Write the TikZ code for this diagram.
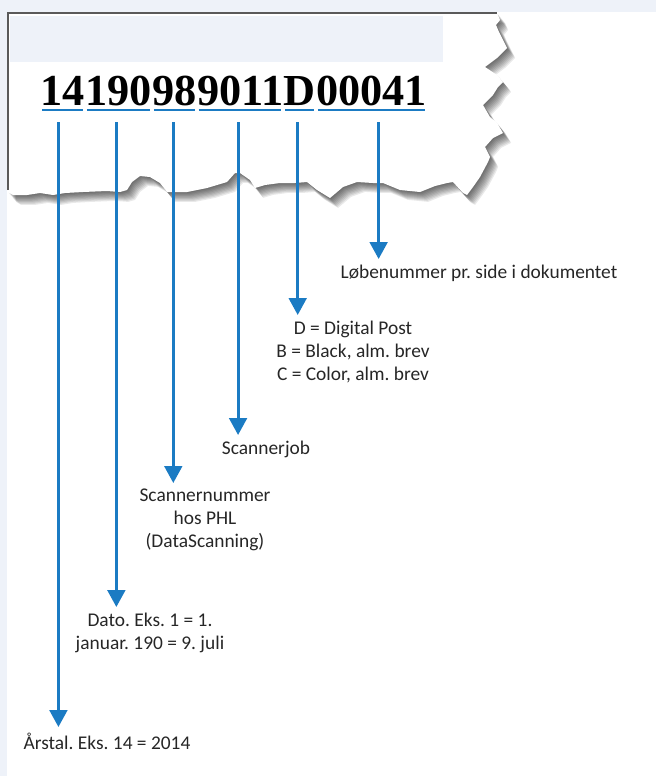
\documentclass[tikz,border=0pt]{standalone}
\usepackage{fontspec}
\setmainfont{Carlito}
\newfontfamily\numfont{Liberation Serif}
\usepackage{xcolor}
\usetikzlibrary{arrows.meta, positioning, calc}
\definecolor{arrowblue}{HTML}{1B7BC3}
\definecolor{panelbg}{HTML}{EEF2F9}
\definecolor{edgegray}{HTML}{5A5A5A}
\frenchspacing

\begin{document}
\begin{tikzpicture}[
  x=0.025cm, y=-0.025cm,
  font=\fontsize{13.8}{16.3}\selectfont,
  digits/.style={font=\numfont\bfseries\fontsize{31.5}{36}\selectfont, inner sep=0pt},
  uline/.style={draw=arrowblue, line width=2.1pt},
  arr/.style={draw=arrowblue, line width=2.1pt, -{Triangle[width=12.5pt,length=12pt]}},
  desc/.style={anchor=north, align=center, inner ysep=4pt, text=black!85},
  torn/.style={insert path={(8,13) -- (497,13) -- (500,20) -- (496,25) -- (499,32)
    -- (503,40) -- (507,48) -- (497,58) -- (485,67) -- (497,75) -- (503,82) -- (498,87)
    -- (493,95) -- (483,105) -- (490,117) -- (497,123) -- (503,133) -- (493,138)
    -- (485,147) -- (490,157) -- (488,162) -- (480,177) -- (473,187) -- (467,195)
    -- (463,193) -- (453,182) -- (447,183) -- (435,186) -- (420,192) -- (400,190)
    -- (383,183) -- (373,183) -- (357,182) -- (343,187) -- (330,198) -- (317,190)
    -- (307,182) -- (295,183) -- (280,183) -- (265,185) -- (255,188) -- (250,180)
    -- (240,173) -- (235,173) -- (227,182) -- (207,188) -- (187,192) -- (167,192)
    -- (160,183) -- (150,177) -- (140,176) -- (132,182) -- (127,190) -- (120,192)
    -- (107,191) -- (83,192) -- (65,193) -- (53,195) -- (40,193) -- (27,195)
    -- (13,195) -- (8,192) -- cycle}},
]
\useasboundingbox (0,0) rectangle (656,776);
% Background
\fill[panelbg] (0,0) rectangle (656,12);
\fill[panelbg] (0,0) rectangle (7,776);
% Torn sheet with its shadow
\foreach \s in {1,...,9}
  \fill[black, opacity=.085, shift={(0.9*\s,1.1*\s)}, torn];
\fill[white, torn];
\fill[panelbg] (10,16) rectangle (443,62);
\draw[edgegray, line width=1.1pt] (8,190) -- (8,13) -- (497,13);
% Number groups
\node[digits, anchor=base west] (g1) at (40,105) {14};
\node[digits, base right=0pt of g1] (g2) {190};
\node[digits, base right=0pt of g2] (g3) {98};
\node[digits, base right=0pt of g3] (g4) {9011};
\node[digits, base right=0pt of g4] (g5) {D};
\node[digits, base right=0pt of g5] (g6) {00041};
\foreach \g in {g1,g2,g3,g4,g5,g6}
  \draw[uline] ($(\g.base west)+(2,5)$) -- ($(\g.base east)+(-2,5)$);
% Descriptions
\node[desc] (l6) at (479,259) {Løbenummer pr. side i dokumentet};
\node[desc] (l5) at (353,315) {D = Digital Post\\B = Black, alm. brev\\C = Color, alm. brev};
\node[desc] (l4) at (266,435) {Scannerjob};
\node[desc] (l3) at (205,483) {Scannernummer\\hos PHL\\(DataScanning)};
\node[desc] (l2) at (150,607) {Dato. Eks. 1 = 1.\\januar. 190 = 9. juli};
\node[desc] (l1) at (107,727) {Årstal. Eks. 14 = 2014};
% Arrows
\foreach \g/\l/\dx in {g1/l1/-4, g2/l2/-2, g3/l3/-1, g4/l4/-2, g5/l5/-2, g6/l6/7}{
  \coordinate (\g top) at ($(\g.base)+(\dx,17)$);
  \draw[arr] (\g top) -- (\g top |- \l.north);
}
\end{tikzpicture}
\end{document}
